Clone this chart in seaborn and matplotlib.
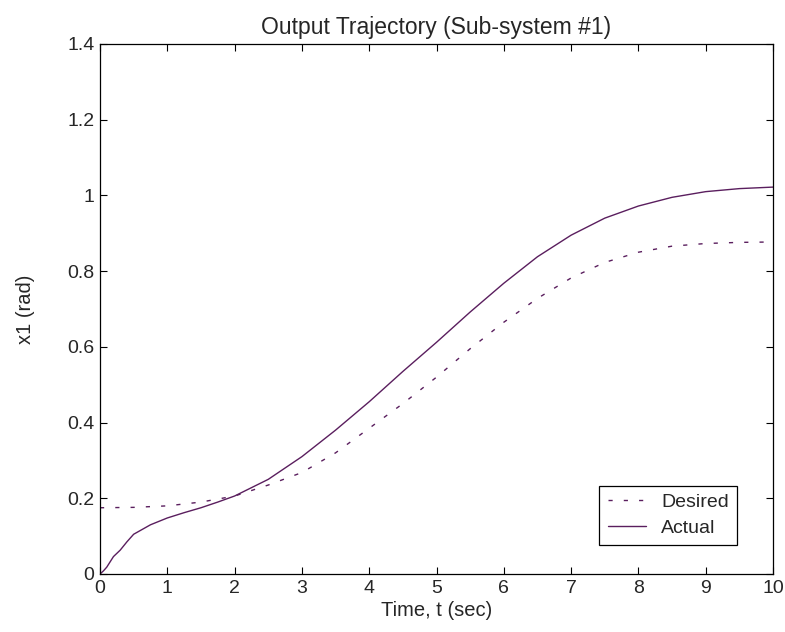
import matplotlib
matplotlib.use("Agg")
import matplotlib.pyplot as plt
import seaborn as sns
import pandas as pd

# Data
t_actual = [0, 0.05, 0.1, 0.15, 0.2, 0.3, 0.4, 0.5, 0.75, 1.0, 1.25, 1.5, 1.75, 2.0,
            2.5, 3.0, 3.5, 4.0, 4.5, 5.0, 5.5, 6.0, 6.5, 7.0, 7.5, 8.0, 8.5, 9.0, 9.5, 10.0]
x1_actual = [0.0, 0.008, 0.018, 0.032, 0.046, 0.063, 0.085, 0.105, 0.13, 0.148, 0.162,
             0.175, 0.19, 0.206, 0.25, 0.31, 0.38, 0.455, 0.535, 0.612, 0.692, 0.768,
             0.838, 0.895, 0.94, 0.972, 0.995, 1.01, 1.018, 1.022]
t_desired = [0, 0.5, 1.0, 1.5, 2.0, 2.5, 3.0, 3.5, 4.0, 4.5, 5.0, 5.5, 6.0, 6.5,
             7.0, 7.5, 8.0, 8.5, 9.0, 9.5, 10.0]
x1_desired = [0.175, 0.176, 0.18, 0.19, 0.206, 0.235, 0.268, 0.32, 0.385, 0.45, 0.52,
              0.595, 0.665, 0.728, 0.782, 0.823, 0.85, 0.866, 0.873, 0.876, 0.877]

xticks = [0, 1, 2, 3, 4, 5, 6, 7, 8, 9, 10]
yticks = [0, 0.2, 0.4, 0.6, 0.8, 1.0, 1.2, 1.4]
ytick_labels = ["0", "0.2", "0.4", "0.6", "0.8", "1", "1.2", "1.4"]

sns.set_style("ticks")
plt.rcParams['font.family'] = ['Liberation Sans', 'DejaVu Sans']
plt.rcParams['xtick.direction'] = 'in'
plt.rcParams['ytick.direction'] = 'in'

color = '#5a1e5e'

fig = plt.figure(figsize=(7.85, 6.32), dpi=100)
ax = fig.add_axes([100/785, 58/632, 673/785, 530/632])

df_d = pd.DataFrame({'t': t_desired, 'x1': x1_desired})
df_a = pd.DataFrame({'t': t_actual, 'x1': x1_actual})

sns.lineplot(data=df_d, x='t', y='x1', ax=ax, color=color, lw=1.0,
             linestyle=(0, (3, 8)), label='Desired', sort=True)
sns.lineplot(data=df_a, x='t', y='x1', ax=ax, color=color, lw=1.0,
             label='Actual', sort=True)

ax.set_xlim(0, 10)
ax.set_ylim(0, 1.4)
ax.set_xticks(xticks)
ax.set_xticklabels([str(v) for v in xticks])
ax.set_yticks(yticks)
ax.set_yticklabels(ytick_labels)
ax.tick_params(axis='both', which='both', direction='in', top=True, right=True,
               labelsize=14, length=5, width=0.8, color='black', pad=4)
for s in ax.spines.values():
    s.set_visible(True)
    s.set_color('black')
    s.set_linewidth(0.9)

ax.set_xlabel('Time, t (sec)', fontsize=14.5, labelpad=3)
ax.set_ylabel('x1 (rad)', fontsize=14.5, labelpad=23)
ax.set_title('Output Trajectory (Sub-system #1)', fontsize=16.5, pad=7.5)

leg = ax.legend(loc='lower right', bbox_to_anchor=(0.9465, 0.055), frameon=True,
                fancybox=False, edgecolor='black', framealpha=1, fontsize=14,
                handlelength=2.0, borderpad=0.42, labelspacing=0.4, handletextpad=0.75,
                borderaxespad=0)
leg.get_frame().set_linewidth(0.9)

fig.savefig('out.png', dpi=100)
